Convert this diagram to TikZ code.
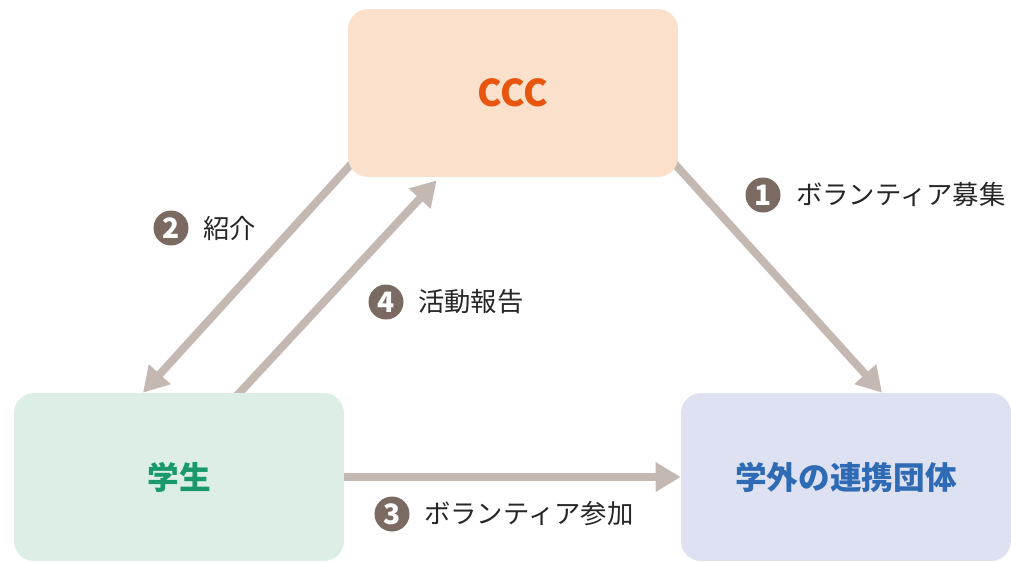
\documentclass[tikz,border=0pt]{standalone}
\usepackage{fontspec}
\setmainfont{Noto Sans CJK JP}
\usetikzlibrary{arrows.meta,positioning,calc,backgrounds}
\definecolor{arrowgray}{HTML}{C3B8B2}
\definecolor{numbrown}{HTML}{7A6A62}
\definecolor{cccfill}{HTML}{FBE1CC}
\definecolor{ccctext}{HTML}{E8550E}
\definecolor{stufill}{HTML}{DDEEE5}
\definecolor{stutext}{HTML}{1A9A6C}
\definecolor{orgfill}{HTML}{DDE1F2}
\definecolor{orgtext}{HTML}{2F6BB5}
\begin{document}
\begin{tikzpicture}[x=0.02cm,y=-0.02cm,
	box/.style={rounded corners=0.4cm,minimum width=6.6cm,minimum height=3.36cm,inner sep=0pt,font=\fontsize{18}{22}\selectfont\bfseries},
	flow/.style={draw=arrowgray,line width=4.5pt,-{Triangle[length=0.5cm,width=0.56cm]}},
	num/.style={circle,fill=numbrown,text=white,inner sep=0pt,minimum size=0.7cm,font=\fontsize{16}{16}\selectfont\bfseries},
	lbl/.style={inner sep=0pt,text=black!85,font=\fontsize{15}{18}\selectfont}]
		\useasboundingbox (0,0) rectangle (1011,562);
		\node[box,fill=cccfill,text=ccctext,font=\fontsize{21}{24}\selectfont\bfseries](ccc) at (513,93){CCC};
		\node[box,fill=stufill,text=stutext](stu) at (179,477){学生};
		\node[box,fill=orgfill,text=orgtext](org) at (846,477){学外の連携団体};
		\begin{scope}[on background layer]
		\draw[flow]($(ccc.south east)+(-5,-15)$)--($(org.north)+(36,0)$);
		\draw[flow]($(ccc.south west)+(5,-15)$)--($(stu.north)+(-36,0)$);
		\draw[flow]($(stu.north)+(56,5)$)--($(ccc.south west)+(89,3)$);
		\end{scope}
		\draw[flow](stu.east)--(org.west);
		\node[num](n1) at (763,195){1};
		\node[lbl,right=0.3cm of n1](t1){ボランティア募集};
		\node[num](n2) at (171,228){2};
		\node[lbl,right=0.28cm of n2](t2){紹介};
		\node[num](n3) at (392,514){3};
		\node[lbl,right=0.28cm of n3](t3){ボランティア参加};
		\node[num](n4) at (386,302){4};
		\node[lbl,right=0.28cm of n4](t4){活動報告};
	\end{tikzpicture}
\end{document}
